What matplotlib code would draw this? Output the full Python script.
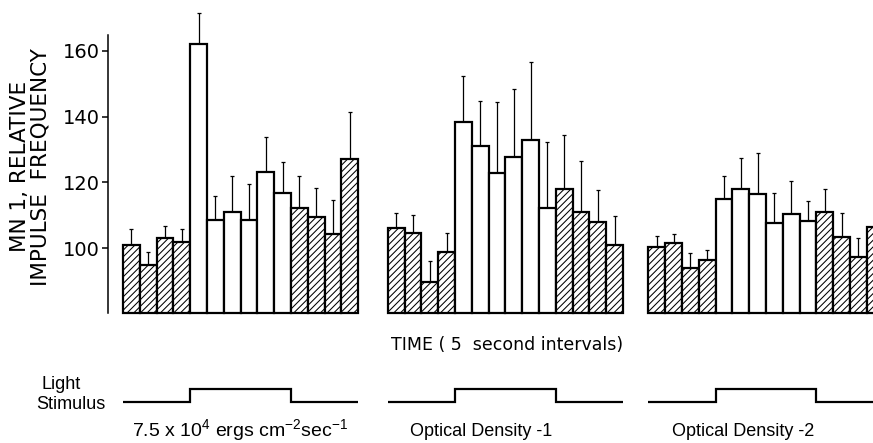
import numpy as np
import matplotlib
matplotlib.use("Agg")
import matplotlib.pyplot as plt

# bar means and upper SE for each 5 s interval, three light intensities
group_labels = [r"7.5 x 10$^{4}$ ergs cm$^{-2}$sec$^{-1}$",
                "Optical Density -1", "Optical Density -2"]
means_g1 = [100.9, 94.8, 103.0, 101.9, 162.1, 108.7, 111.1,
            108.7, 123.3, 116.9, 112.1, 109.5, 104.2, 127.1]
errs_g1 = [4.8, 4.1, 3.7, 3.8, 9.5, 7.2, 10.9,
           10.8, 10.6, 9.4, 9.9, 8.9, 10.6, 14.3]
means_g2 = [106.1, 104.7, 89.7, 98.9, 138.3, 131.1, 122.8,
            127.8, 132.9, 112.3, 118.0, 110.9, 108.0, 100.9]
errs_g2 = [4.7, 5.4, 6.4, 5.8, 14.2, 13.8, 21.8,
           20.7, 23.9, 20.1, 16.5, 15.7, 9.7, 9.0]
means_g3 = [100.4, 101.6, 94.1, 96.5, 115.1, 118.0, 116.4,
            107.7, 110.3, 108.3, 111.1, 103.3, 97.2, 106.5]
errs_g3 = [3.3, 2.6, 4.3, 3.1, 6.9, 9.5, 12.5,
           9.2, 10.2, 6.1, 6.9, 7.3, 5.8, 5.4]
# light on (1) / off (0) for each interval; off intervals are hatched
stimulus = [0, 0, 0, 0, 1, 1, 1, 1, 1, 1, 0, 0, 0, 0]
yticks = [100, 120, 140, 160]

means = [means_g1, means_g2, means_g3]
errs = [errs_g1, errs_g2, errs_g3]

W, H = 873, 443
group_start = [0.0, 15.76, 31.27]
Y0, YTOP = 80.3, 174.9
XMIN, XMAX = -0.893, 44.64

plt.rcParams["hatch.linewidth"] = 0.75
plt.rcParams["mathtext.fontset"] = "custom"
plt.rcParams["mathtext.rm"] = "Liberation Sans"
plt.rcParams["mathtext.default"] = "regular"

fig = plt.figure(figsize=(W / 100, H / 100), dpi=100)


def px(x0, y0, x1, y1):
    # pixel box -> figure fraction rect
    return [x0 / W, 1 - y1 / H, (x1 - x0) / W, (y1 - y0) / H]


ax = fig.add_axes(px(108, 2, 873, 313))
ax.set_xlim(XMIN, XMAX)
ax.set_ylim(Y0, YTOP)

for g in range(3):
    left = group_start[g] + np.arange(len(stimulus))
    vals = np.array(means[g])
    hatches = ["/////" if s == 0 else "" for s in stimulus]
    bars = ax.bar(left, vals - Y0, bottom=Y0, width=1.0, align="edge",
                  facecolor="white", edgecolor="black", linewidth=1.6,
                  clip_on=False, zorder=2)
    for b, h in zip(bars, hatches):
        b.set_hatch(h)
    ax.errorbar(left + 0.5, vals, yerr=[np.zeros(len(vals)), errs[g]],
                fmt="none", ecolor="black", elinewidth=0.9, capsize=1.6,
                capthick=0.9, zorder=1)

for s in ["top", "right", "bottom"]:
    ax.spines[s].set_visible(False)
ax.spines["left"].set_linewidth(1.1)
ax.spines["left"].set_bounds(Y0, 164.9)
ax.set_xticks([])
ax.set_yticks(yticks)
ax.tick_params(axis="y", direction="out", length=4.3, width=1.1,
               pad=1.5, labelsize=14)
for t in ax.get_yticklabels():
    t.set_family("DejaVu Sans")

fig.text(20 / W, 1 - 166 / H, "MN 1, RELATIVE", rotation=90,
         ha="center", va="center", fontsize=15.5, family="DejaVu Sans")
fig.text(41 / W, 1 - 167 / H, "IMPULSE  FREQUENCY", rotation=90,
         ha="center", va="center", fontsize=15.5, family="DejaVu Sans")

fig.text(507 / W, 1 - 350 / H, "TIME ( 5  second intervals)",
         ha="center", va="baseline", fontsize=12.5, family="DejaVu Sans")

# light stimulus traces
sx = fig.add_axes(px(108, 376.9, 873, 414.1))
sx.set_xlim(XMIN, XMAX)
sx.set_ylim(-1, 2)
sx.axis("off")
for g in range(3):
    edges = group_start[g] + np.arange(len(stimulus) + 1)
    sx.stairs(stimulus, edges, baseline=None, color="black",
              linewidth=1.6, clip_on=False)

fig.text(61.5 / W, 1 - 389 / H, "Light", ha="center", va="baseline",
         fontsize=13, family="Liberation Sans")
fig.text(71 / W, 1 - 409 / H, "Stimulus", ha="center", va="baseline",
         fontsize=13, family="Liberation Sans")

label_x = [240, 481, 743]
label_size = [14, 13, 13]
for lbl, x, fs in zip(group_labels, label_x, label_size):
    fig.text(x / W, 1 - 436 / H, lbl, ha="center", va="baseline",
             fontsize=fs, family="Liberation Sans")

fig.savefig("out.png", dpi=100)
